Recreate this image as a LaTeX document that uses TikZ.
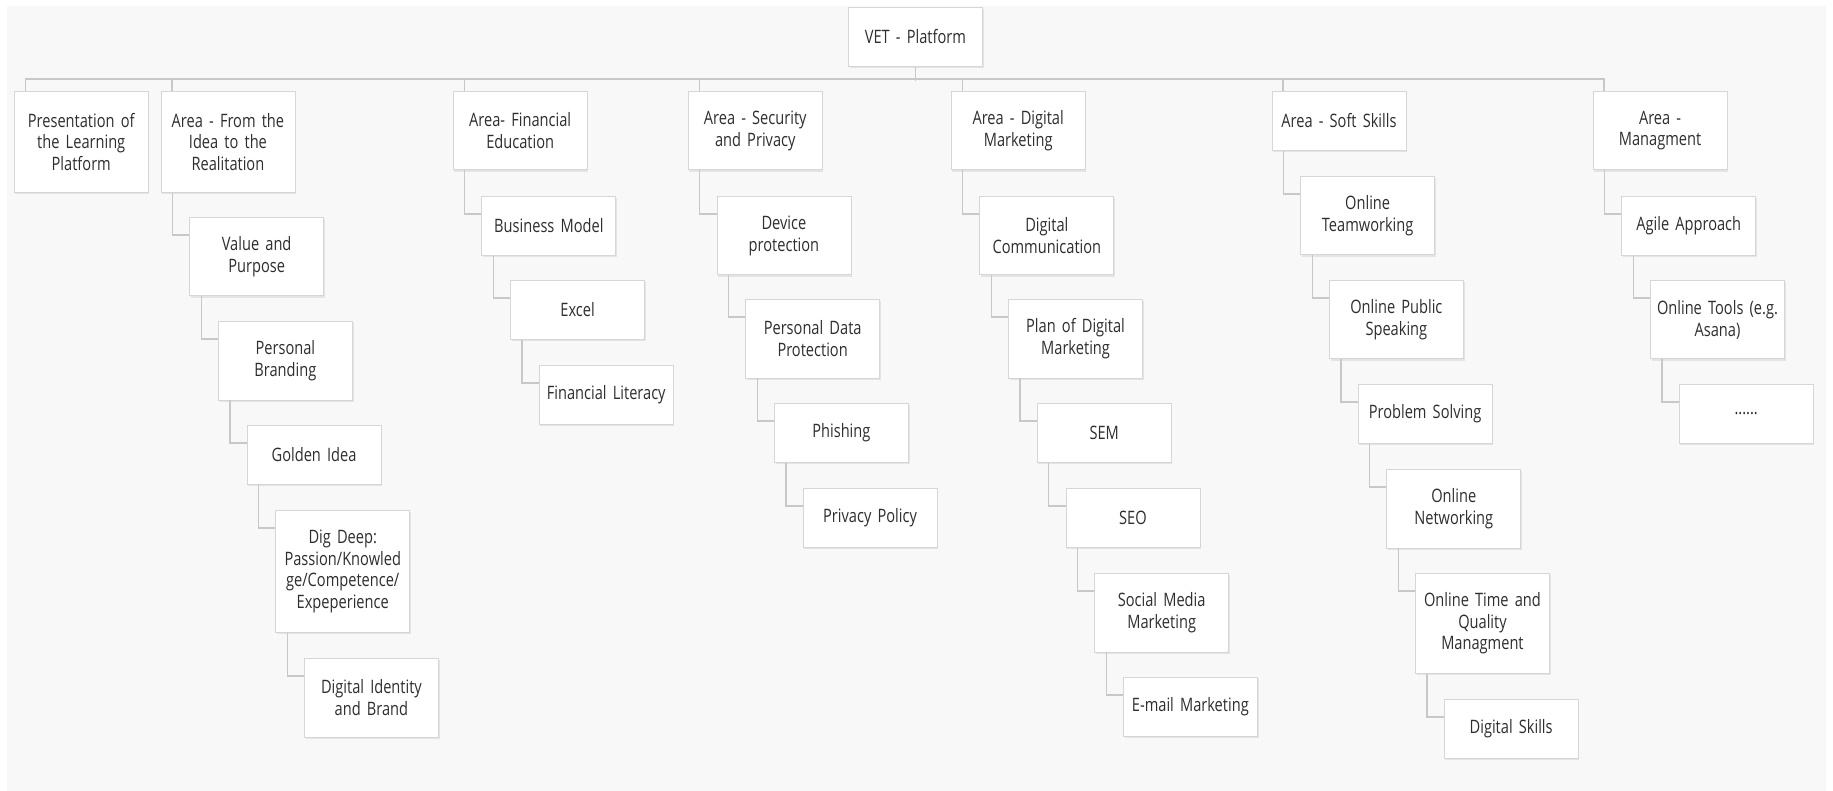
\documentclass[tikz,border=0pt]{standalone}
\usepackage{fontspec}
\setmainfont{Open Sans}[FakeStretch=0.79]
\usetikzlibrary{shadows}
\definecolor{bg}{HTML}{F8F8F8}
\definecolor{boxline}{HTML}{D6D6D6}
\definecolor{conn}{HTML}{C8C8C8}
\definecolor{txt}{HTML}{2E2E2E}
\tikzset{
  box/.style={draw=boxline, fill=white, line width=0.9pt, anchor=north west,
    minimum width=134pt, text width=128pt, align=center, inner sep=0pt,
    text=txt, font=\fontsize{18.5}{21.7}\selectfont,
    drop shadow={shadow xshift=1.2pt, shadow yshift=-1.8pt, fill=black, opacity=0.08}},
  l1/.style={box, minimum height=59pt},
  l2/.style={box, minimum height=78.5pt},
  l3/.style={box, minimum height=101pt},
  l4/.style={box, minimum height=122pt},
  link/.style={draw=conn, line width=1.3pt},
}
\newcommand{\elbow}[2]{\draw[link] ([xshift=12pt]#1.south west) |- ([yshift=-18pt]#2.north west);}
\newcommand{\stub}[1]{\draw[link] ([xshift=11.5pt]#1.north west) -- ++(0,-12);}
\begin{document}
\begin{tikzpicture}[x=1pt,y=-1pt]
\useasboundingbox (0,0) rectangle (1833,791);
\fill[white] (0,0) rectangle (1833,791);
\fill[bg] (7,6) rectangle (1826,791);

\node[l1] (root) at (848,7) {VET - Platform};

\node[l3] (p0) at (13.8,91) {Presentation of\\the Learning\\Platform};

\node[l3] (a1) at (160.5,91) {Area - From the\\Idea to the\\Realitation};
\node[l2] (a1c1) at (189.2,217) {Value and\\Purpose};
\node[l2] (a1c2) at (217.9,321) {Personal\\Branding};
\node[l1] (a1c3) at (246.6,425) {Golden Idea};
\node[l4] (a1c4) at (275.3,510) {Dig Deep:\\Passion/Knowled\\ge/Competence/\\Expeperience};
\node[l2] (a1c5) at (304,658) {Digital Identity\\and Brand};

\node[l2] (a2) at (452.7,91) {Area- Financial\\Education};
\node[l1] (a2c1) at (481.4,196) {Business Model};
\node[l1] (a2c2) at (510.1,280) {Excel};
\node[l1] (a2c3) at (538.8,365) {Financial Literacy};

\node[l2] (a3) at (687.8,91) {Area - Security\\and Privacy};
\node[l2] (a3c1) at (716.5,196) {Device\\protection};
\node[l2] (a3c2) at (745.2,299) {Personal Data\\Protection};
\node[l1] (a3c3) at (773.9,403) {Phishing};
\node[l1] (a3c4) at (802.6,488) {Privacy Policy};

\node[l2] (a4) at (950.7,91) {Area - Digital\\Marketing};
\node[l2] (a4c1) at (979.4,196) {Digital\\Communication};
\node[l2] (a4c2) at (1008.1,299) {Plan of Digital\\Marketing};
\node[l1] (a4c3) at (1036.8,403) {SEM};
\node[l1] (a4c4) at (1065.5,488) {SEO};
\node[l2] (a4c5) at (1094.2,573) {Social Media\\Marketing};
\node[l1] (a4c6) at (1122.9,677) {E-mail Marketing};

\node[l1] (a5) at (1271.5,91) {Area - Soft Skills};
\node[l2] (a5c1) at (1300.2,176) {Online\\Teamworking};
\node[l2] (a5c2) at (1328.9,280) {Online Public\\Speaking};
\node[l1] (a5c3) at (1357.6,384) {Problem Solving};
\node[l2] (a5c4) at (1386.3,469) {Online\\Networking};
\node[box, minimum height=100pt] (a5c5) at (1415,573) {Online Time and\\Quality\\Managment};
\node[l1] (a5c6) at (1443.7,699) {Digital Skills};

\node[l2] (a6) at (1592.6,91) {Area -\\Managment};
\node[l1] (a6c1) at (1621.3,196) {Agile Approach};
\node[l2] (a6c2) at (1650,280) {Online Tools (e.g.\\Asana)};
\node[l1] (a6c3) at (1678.7,384) {......};

% bus
\draw[link] ([xshift=11.5pt]p0.north west) -- ++(0,-12) -| ([xshift=11.5pt]a6.north west);
\draw[link] (root.south) -- ++(0,14);
\stub{a1}\stub{a2}\stub{a3}\stub{a4}\stub{a5}

\elbow{a1}{a1c1}\elbow{a1c1}{a1c2}\elbow{a1c2}{a1c3}\elbow{a1c3}{a1c4}\elbow{a1c4}{a1c5}
\elbow{a2}{a2c1}\elbow{a2c1}{a2c2}\elbow{a2c2}{a2c3}
\elbow{a3}{a3c1}\elbow{a3c1}{a3c2}\elbow{a3c2}{a3c3}\elbow{a3c3}{a3c4}
\elbow{a4}{a4c1}\elbow{a4c1}{a4c2}\elbow{a4c2}{a4c3}\elbow{a4c3}{a4c4}\elbow{a4c4}{a4c5}\elbow{a4c5}{a4c6}
\elbow{a5}{a5c1}\elbow{a5c1}{a5c2}\elbow{a5c2}{a5c3}\elbow{a5c3}{a5c4}\elbow{a5c4}{a5c5}\elbow{a5c5}{a5c6}
\elbow{a6}{a6c1}\elbow{a6c1}{a6c2}\elbow{a6c2}{a6c3}
\end{tikzpicture}
\end{document}
